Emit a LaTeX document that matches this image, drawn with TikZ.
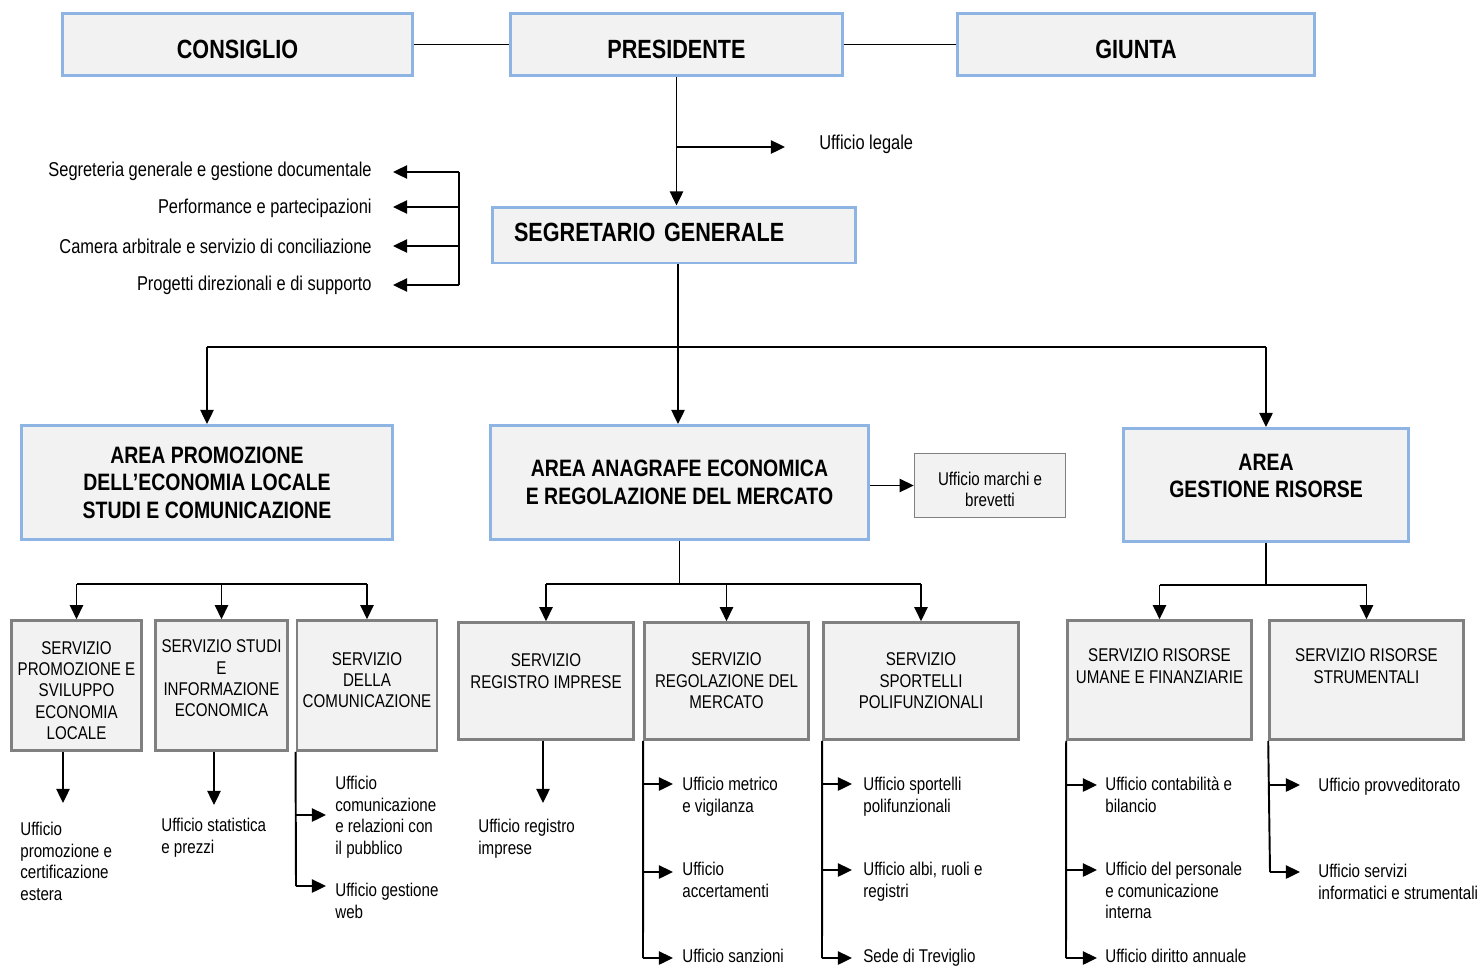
\documentclass[tikz,border=0pt]{standalone}
\usepackage{fontspec}
\setmainfont{Liberation Sans}[FakeStretch=0.82]
\usetikzlibrary{arrows.meta, positioning}
\definecolor{areablue}{RGB}{141,180,226}
\definecolor{boxfill}{RGB}{242,242,242}
\definecolor{servgrey}{RGB}{128,128,128}
\tikzstyle{topbox} = [rectangle, draw=areablue, line width=1.7pt, fill=boxfill, align=center, font=\bfseries\fontsize{15}{15.6}\selectfont]
\tikzstyle{headbox} = [topbox, text height=16pt, text depth=0pt, minimum height=1.24cm]
\tikzstyle{areabox} = [topbox, font=\bfseries\fontsize{13.5}{15.6}\selectfont]
\tikzstyle{servbox} = [rectangle, draw=servgrey, line width=1.5pt, fill=boxfill, align=center, font=\fontsize{10.5}{12.2}\selectfont]
\tikzstyle{office} = [inner sep=0pt, align=left, anchor=north west, yshift=0.14cm, font=\fontsize{10.5}{12.2}\selectfont]
\tikzstyle{listitem} = [inner sep=0pt, anchor=east, font=\fontsize{11.4}{13}\selectfont]
\tikzstyle{conn} = [line width=1.1pt]
\tikzstyle{arrow} = [line width=1.1pt, -{Triangle[length=8pt, width=7.5pt]}]

\begin{document}
\begin{tikzpicture}[x=0.02cm, y=-0.02cm]
\useasboundingbox (0,0) rectangle (1483,967);
% Vertice
\node (consiglio) [headbox, minimum width=7cm] at (237.5,44.5) {CONSIGLIO};
\node (presidente) [headbox, minimum width=6.64cm] at (676.5,44.5) {PRESIDENTE};
\node (giunta) [headbox, minimum width=7.14cm] at (1136,44.5) {GIUNTA};
\node (segretario) [topbox, text width=6.4cm, align=left, inner xsep=0.44cm, text height=10.7pt, text depth=3.4pt, minimum height=1.12cm] at (674,235) {SEGRETARIO GENERALE};
\node (legale) [listitem, anchor=west] at (819,144) {Ufficio legale};
% Staff del segretario
\node (segreteria) [listitem] at (372,171) {Segreteria generale e gestione documentale};
\node (performance) [listitem] at (372,208) {Performance e partecipazioni};
\node (camera) [listitem] at (372,246) {Camera arbitrale e servizio di conciliazione};
\node (progetti) [listitem] at (372,285) {Progetti direzionali e di supporto};
% Aree
\node (areaPromozione) [areabox, minimum width=7.42cm, minimum height=2.28cm] at (207,482.5) {AREA PROMOZIONE\\DELL’ECONOMIA LOCALE\\STUDI E COMUNICAZIONE};
\node (areaAnagrafe) [areabox, minimum width=7.56cm, minimum height=2.28cm] at (679.5,482.5) {AREA ANAGRAFE ECONOMICA\\E REGOLAZIONE DEL MERCATO};
\node (ufficioMarchi) [servbox, line width=0.9pt, minimum width=3.02cm, minimum height=1.28cm] at (990,485.5) {Ufficio marchi e\\brevetti\\[-16.8pt]\mbox{}};
\node (areaGestione) [areabox, minimum width=5.7cm, minimum height=2.26cm] at (1266,485) {AREA\\GESTIONE RISORSE\\[-5pt]\mbox{}};
% Servizi
\node (servPromozione) [servbox, minimum width=2.6cm, minimum height=2.6cm] at (76.5,685.5) {SERVIZIO\\PROMOZIONE E\\SVILUPPO\\ECONOMIA\\LOCALE\\[-17.8pt]\mbox{}};
\node (servStudi) [servbox, minimum width=2.6cm, minimum height=2.6cm] at (221.5,685.5) {SERVIZIO STUDI\\E\\INFORMAZIONE\\ECONOMICA\\[-4pt]\mbox{}};
\node (servComunicazione) [servbox, minimum width=2.78cm, minimum height=2.6cm] at (367,685.5) {SERVIZIO\\DELLA\\COMUNICAZIONE\\[-6pt]\mbox{}};
\node (servRegistro) [servbox, minimum width=3.5cm, minimum height=2.34cm] at (546,681) {SERVIZIO\\REGISTRO IMPRESE\\[-1pt]\mbox{}};
\node (servRegolazione) [servbox, minimum width=3.28cm, minimum height=2.34cm] at (726.5,681) {SERVIZIO\\REGOLAZIONE DEL\\MERCATO};
\node (servSportelli) [servbox, minimum width=3.9cm, minimum height=2.34cm] at (921,681) {SERVIZIO\\SPORTELLI\\POLIFUNZIONALI};
\node (servRisorseUmane) [servbox, minimum width=3.68cm, minimum height=2.38cm] at (1159.5,680) {SERVIZIO RISORSE\\UMANE E FINANZIARIE\\[3.6pt]\mbox{}};
\node (servRisorseStrum) [servbox, minimum width=3.88cm, minimum height=2.38cm] at (1366.5,680) {SERVIZIO RISORSE\\STRUMENTALI\\[3.6pt]\mbox{}};
% Uffici
\node (promEstera) [office] at (20,829) {Ufficio\\promozione e\\certificazione\\estera};
\node (statistica) [office] at (161,825) {Ufficio statistica\\e prezzi};
\node (comunicUrp) [office] at (335,783) {Ufficio\\comunicazione\\e relazioni con\\il pubblico};
\node (gestioneWeb) [office] at (335,890) {Ufficio gestione\\web};
\node (registroImprese) [office] at (478,826) {Ufficio registro\\imprese};
\node (metrico) [office] at (682,784) {Ufficio metrico\\e vigilanza};
\node (accertamenti) [office] at (682,869) {Ufficio\\accertamenti};
\node (sanzioni) [office] at (682,956) {Ufficio sanzioni};
\node (sportelliUff) [office] at (863,784) {Ufficio sportelli\\polifunzionali};
\node (albi) [office] at (863,869) {Ufficio albi, ruoli e\\registri};
\node (treviglio) [office] at (863,956) {Sede di Treviglio};
\node (contabilita) [office] at (1105,784) {Ufficio contabilità e\\bilancio};
\node (personale) [office] at (1105,869) {Ufficio del personale\\e comunicazione\\interna};
\node (dirittoAnnuale) [office] at (1105,956) {Ufficio diritto annuale};
\node (provveditorato) [office] at (1318,785) {Ufficio provveditorato};
\node (informatici) [office] at (1318,871) {Ufficio servizi\\informatici e strumentali};
% Punti di snodo
\coordinate (legaleFork) at (676.5,147);
\coordinate (list1) at (459,172);
\coordinate (list2) at (459,207);
\coordinate (list3) at (459,246);
\coordinate (list4) at (459,285);
\coordinate (areaFork) at (678,347);
\coordinate (promBar) at (0,584);
\coordinate (anagBar) at (679.5,584);
\coordinate (gestBar) at (1266,585);
\coordinate (promEsteraIn) at (63,803);
\coordinate (statisticaIn) at (214,805);
\coordinate (registroIn) at (543,803);
\coordinate (s3a) at (296,815);
\coordinate (s3b) at (296,886);
\coordinate (s5a) at (643,784);
\coordinate (s5b) at (643,872);
\coordinate (s5c) at (643,958);
\coordinate (s6a) at (822,784);
\coordinate (s6b) at (822,870);
\coordinate (s6c) at (822,958);
\coordinate (s7a) at (1066,785);
\coordinate (s7b) at (1066,870);
\coordinate (s7c) at (1066,958);
\coordinate (s8a) at (1270,785);
\coordinate (s8b) at (1270,872);
% Collegamenti vertice
\draw [conn] (consiglio) -- (presidente);
\draw [conn] (presidente) -- (giunta);
\draw [arrow] (presidente.south) -- (presidente.south |- segretario.north);
\draw [arrow, shorten >=0.68cm] (legaleFork) -- (legaleFork -| legale.west);
\draw [conn] (list1) -- (list4);
\draw [arrow, shorten >=0.42cm] (list1) -- (list1 -| segreteria.east);
\draw [arrow, shorten >=0.42cm] (list2) -- (list2 -| performance.east);
\draw [arrow, shorten >=0.42cm] (list3) -- (list3 -| camera.east);
\draw [arrow, shorten >=0.42cm] (list4) -- (list4 -| progetti.east);
% Collegamenti aree
\draw [arrow] (segretario.south -| areaFork) -- (areaFork |- areaAnagrafe.north);
\draw [conn] (areaPromozione.north |- areaFork) -- (areaGestione.north |- areaFork);
\draw [arrow] (areaPromozione.north |- areaFork) -- (areaPromozione.north);
\draw [arrow] (areaGestione.north |- areaFork) -- (areaGestione.north);
\draw [arrow] (areaAnagrafe.east |- ufficioMarchi.west) -- (ufficioMarchi.west);
% Collegamenti servizi
\draw [conn] (servPromozione.north |- promBar) -- (servComunicazione.north |- promBar);
\draw [arrow] (servPromozione.north |- promBar) -- (servPromozione.north);
\draw [arrow] (servStudi.north |- promBar) -- (servStudi.north);
\draw [arrow] (servComunicazione.north |- promBar) -- (servComunicazione.north);
\draw [conn] (areaAnagrafe.south) -- (anagBar);
\draw [conn] (servRegistro.north |- anagBar) -- (servSportelli.north |- anagBar);
\draw [arrow] (servRegistro.north |- anagBar) -- (servRegistro.north);
\draw [arrow] (servRegolazione.north |- anagBar) -- (servRegolazione.north);
\draw [arrow] (servSportelli.north |- anagBar) -- (servSportelli.north);
\draw [conn] (areaGestione.south) -- (gestBar);
\draw [conn] (servRisorseUmane.north |- gestBar) -- (servRisorseStrum.north |- gestBar);
\draw [arrow] (servRisorseUmane.north |- gestBar) -- (servRisorseUmane.north);
\draw [arrow] (servRisorseStrum.north |- gestBar) -- (servRisorseStrum.north);
% Collegamenti uffici
\draw [arrow] (servPromozione.south -| promEsteraIn) -- (promEsteraIn);
\draw [arrow] (servStudi.south -| statisticaIn) -- (statisticaIn);
\draw [arrow] (servRegistro.south -| registroIn) -- (registroIn);
\draw [conn] (servComunicazione.south west) -- (s3b);
\draw [arrow, shorten >=0.18cm] (s3a) -- (s3a -| comunicUrp.west);
\draw [arrow, shorten >=0.18cm] (s3b) -- (s3b -| gestioneWeb.west);
\draw [conn] (servRegolazione.south west) -- (s5c);
\draw [arrow, shorten >=0.18cm] (s5a) -- (s5a -| metrico.west);
\draw [arrow, shorten >=0.18cm] (s5b) -- (s5b -| accertamenti.west);
\draw [arrow, shorten >=0.18cm] (s5c) -- (s5c -| sanzioni.west);
\draw [conn] (servSportelli.south west) -- (s6c);
\draw [arrow, shorten >=0.22cm] (s6a) -- (s6a -| sportelliUff.west);
\draw [arrow, shorten >=0.22cm] (s6b) -- (s6b -| albi.west);
\draw [arrow, shorten >=0.22cm] (s6c) -- (s6c -| treviglio.west);
\draw [conn] (servRisorseUmane.south west) -- (s7c);
\draw [arrow, shorten >=0.16cm] (s7a) -- (s7a -| contabilita.west);
\draw [arrow, shorten >=0.16cm] (s7b) -- (s7b -| personale.west);
\draw [arrow, shorten >=0.16cm] (s7c) -- (s7c -| dirittoAnnuale.west);
\draw [conn] (servRisorseStrum.south west) -- (s8b);
\draw [arrow, shorten >=0.36cm] (s8a) -- (s8a -| provveditorato.west);
\draw [arrow, shorten >=0.36cm] (s8b) -- (s8b -| informatici.west);
\end{tikzpicture}
\end{document}
